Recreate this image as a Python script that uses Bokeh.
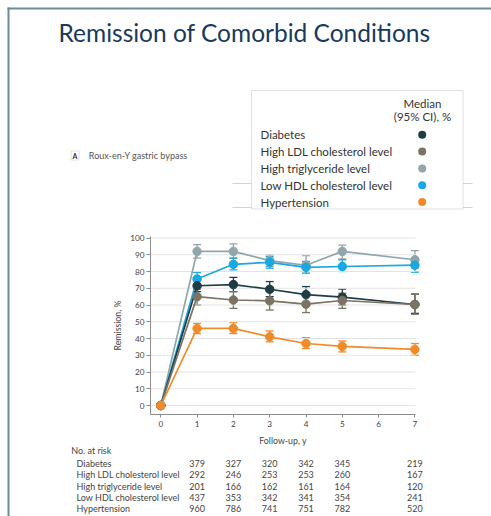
from bokeh.plotting import figure
from bokeh.models import (Label, LabelSet, BoxAnnotation, Whisker, TeeHead,
                          ColumnDataSource, FixedTicker, Range1d)
from bokeh.core.properties import value
from bokeh.embed import file_html
from bokeh.resources import INLINE

# ---------------- data ----------------
years = [0, 1, 2, 3, 4, 5, 7]
x_ticks = [0, 1, 2, 3, 4, 5, 6, 7]
y_ticks = [0, 10, 20, 30, 40, 50, 60, 70, 80, 90, 100]

names = ["Diabetes", "High LDL cholesterol level", "High triglyceride level",
         "Low HDL cholesterol level", "Hypertension"]
colors = ["#1e3d47", "#7b7363", "#90a6ac", "#19a8e2", "#f08b2a"]

diabetes = [0, 71.5, 72.2, 69.4, 66.2, 64.7, 60.3]
diabetes_lo = [0, 68, 68, 65, 61.5, 60, 55]
diabetes_hi = [0, 75, 76.5, 74, 71, 69.5, 66.5]

ldl = [0, 65, 63, 62.5, 60.5, 62.7, 60.3]
ldl_lo = [0, 60, 58, 57, 55.5, 58, 54.5]
ldl_hi = [0, 69.5, 68, 68, 66, 67, 66.5]

trig = [0, 92, 92, 86.5, 83.7, 92, 87]
trig_lo = [0, 88, 88, 83, 80, 87.5, 82]
trig_hi = [0, 96, 96.5, 90, 89.5, 95.7, 92.5]

hdl = [0, 75.5, 84.3, 85.5, 82.5, 83, 83.8]
hdl_lo = [0, 72, 81, 82, 79, 80, 79.6]
hdl_hi = [0, 79.5, 88, 89, 86, 87, 87.5]

hyper = [0, 46, 46, 41, 37, 35.3, 33.5]
hyper_lo = [0, 43, 43, 38, 34, 32, 30]
hyper_hi = [0, 49, 49.5, 44.5, 40.5, 38.5, 37]

risk_years = [1, 2, 3, 4, 5, 7]
risk_diabetes = [379, 327, 320, 342, 345, 219]
risk_ldl = [292, 246, 253, 253, 260, 167]
risk_trig = [201, 166, 162, 161, 164, 120]
risk_hdl = [437, 353, 342, 341, 354, 241]
risk_hyper = [960, 786, 741, 751, 782, 520]

title_text = "Remission of Comorbid Conditions"
panel_text = "Roux-en-Y gastric bypass"
x_label = "Follow-up, y"
y_label = "Remission, %"

# ---------------- geometry (frame covers the whole canvas) ----------------
W, H = 491, 516
X0, PXX = 160.3, 36.3      # px of year 0, px per year
Y0, PXY = 405.0, 1.675     # px of 0 %, px per %


def X(px):
    return (px - X0) / PXX


def Y(py):
    return (Y0 - py) / PXY


FONT = "Lato"

p = figure(width=W, height=H, output_backend="svg", toolbar_location=None,
           x_range=Range1d(X(0), X(W)), y_range=Range1d(Y(H), Y(0)),
           min_border=0, min_border_left=0, min_border_right=0,
           min_border_top=0, min_border_bottom=0)
p.title.visible = False
p.background_fill_color = "white"
p.border_fill_color = "white"
p.outline_line_color = None
p.xgrid.visible = False
p.ygrid.visible = False

ax_left, ax_right = X(150), X(415)
ax_bottom, ax_top = Y(414), Y(236)

xa = p.xaxis[0]
ya = p.yaxis[0]
xa.fixed_location = ax_bottom
ya.fixed_location = ax_left
xa.bounds = (ax_left, ax_right)
ya.bounds = (ax_bottom, ax_top)
for ax in (xa, ya):
    ax.axis_line_color = "#8c8c8c"
    ax.major_tick_line_color = "#8c8c8c"
    ax.minor_tick_line_color = None
    ax.major_tick_in = 0
    ax.major_label_text_font = FONT
    ax.major_label_text_font_size = "8.2px"
    ax.major_label_text_color = "#444444"
    ax.axis_label_text_font = FONT
    ax.axis_label_text_font_size = "8.8px"
    ax.axis_label_text_font_style = "normal"
    ax.axis_label_text_color = "#444444"
xa.ticker = FixedTicker(ticks=x_ticks)
ya.ticker = FixedTicker(ticks=y_ticks)
xa.major_tick_out = 3
ya.major_tick_out = 4
xa.major_label_standoff = 3
ya.major_label_standoff = 2
xa.axis_label = x_label
ya.axis_label = y_label
xa.axis_label_standoff = 5
ya.axis_label_standoff = 4

# horizontal grid lines at the y ticks, limited to the axis extent
grid_src = ColumnDataSource(dict(y=y_ticks, x0=[ax_left] * len(y_ticks),
                                 x1=[ax_right] * len(y_ticks)))
p.segment(x0="x0", y0="y", x1="x1", y1="y", source=grid_src,
          line_color="#e3e3e3", line_width=1)

# ---------------- series ----------------
order = [(trig, trig_lo, trig_hi, colors[2]),
         (hdl, hdl_lo, hdl_hi, colors[3]),
         (diabetes, diabetes_lo, diabetes_hi, colors[0]),
         (ldl, ldl_lo, ldl_hi, colors[1]),
         (hyper, hyper_lo, hyper_hi, colors[4])]

for vals, lo, hi, col in order:
    src = ColumnDataSource(dict(x=years, y=vals))
    wsrc = ColumnDataSource(dict(x=years[1:], lo=lo[1:], hi=hi[1:]))
    w = Whisker(base="x", lower="lo", upper="hi", source=wsrc,
                dimension="height", line_color=col, line_width=1.3,
                upper_head=TeeHead(size=8, line_color=col, line_width=1.3),
                lower_head=TeeHead(size=8, line_color=col, line_width=1.3))
    p.add_layout(w)
    p.line("x", "y", source=src, line_color=col, line_width=1.7)
    p.scatter("x", "y", source=src, size=8.5, fill_color=col, line_color=col)

# ---------------- title ----------------
p.add_layout(Label(x=X(58), y=Y(31.5), text=title_text, text_font=FONT,
                   text_font_size="24.5px", text_color="#183a5c",
                   text_baseline="middle", text_align="left"))

# panel tag
p.add_layout(BoxAnnotation(left=X(70.5), right=X(78.5), top=Y(150.5), bottom=Y(159.5),
                           fill_color="white", fill_alpha=1, line_color="#9a9a9a",
                           line_width=1))
p.add_layout(Label(x=X(74.5), y=Y(155.3), text="A", text_font=FONT,
                   text_font_size="7px", text_font_style="bold", text_color="#333333",
                   text_baseline="middle", text_align="center"))
p.add_layout(Label(x=X(88.3), y=Y(155.3), text=panel_text, text_font=FONT,
                   text_font_size="9px", text_color="#555555",
                   text_baseline="middle", text_align="left"))

# ---------------- legend box ----------------
for ly in (183, 207):
    p.add_layout(BoxAnnotation(left=X(232), right=X(472), top=Y(ly - 0.5), bottom=Y(ly + 0.5),
                               fill_color="#d4d4d4", fill_alpha=1, line_color=None))
p.add_layout(BoxAnnotation(left=X(251), right=X(462.5), top=Y(90), bottom=Y(208.5),
                           fill_color="white", fill_alpha=1, line_color="#9d9d9d",
                           line_width=1))
p.add_layout(Label(x=X(422), y=Y(102.7), text="Median", text_font=FONT,
                   text_font_size="11.5px", text_color="#333333",
                   text_baseline="middle", text_align="center"))
p.add_layout(Label(x=X(422), y=Y(116.3), text="(95% CI), %", text_font=FONT,
                   text_font_size="11.5px", text_color="#333333",
                   text_baseline="middle", text_align="center"))
leg_rows = [134.3, 151.0, 168.0, 184.7, 201.5]
for name, col, ry in zip(names, colors, leg_rows):
    p.add_layout(Label(x=X(260), y=Y(ry), text=name, text_font=FONT,
                       text_font_size="11.5px", text_color="#333333",
                       text_baseline="middle", text_align="left"))
    p.add_layout(BoxAnnotation(left=X(421.7 - 4), right=X(421.7 + 4),
                               top=Y(ry - 4), bottom=Y(ry + 4),
                               fill_color=col, fill_alpha=1, line_color=None,
                               border_radius=4))

# ---------------- number at risk table ----------------
p.add_layout(Label(x=X(70.7), y=Y(449.5), text="No. at risk", text_font=FONT,
                   text_font_size="9px", text_color="#444444",
                   text_baseline="middle", text_align="left"))
risk_rows = [risk_diabetes, risk_ldl, risk_trig, risk_hdl, risk_hyper]
row_y = [462.5, 474.0, 485.5, 497.0, 508.3]
for name, counts, ry in zip(names, risk_rows, row_y):
    p.add_layout(Label(x=X(76), y=Y(ry), text=name, text_font=FONT,
                       text_font_size="9px", text_color="#444444",
                       text_baseline="middle", text_align="left"))
    rsrc = ColumnDataSource(dict(x=risk_years, y=[Y(ry)] * len(risk_years),
                                 t=[str(c) for c in counts]))
    p.add_layout(LabelSet(x="x", y="y", text="t", source=rsrc,
                          text_font=value(FONT), text_font_size="9px",
                          text_color="#444444", text_baseline="middle",
                          text_align="center"))

# white strip along the right edge, then the slide frame lines on top
p.add_layout(BoxAnnotation(left=X(W - 8), right=X(W), top=Y(0), bottom=Y(H),
                           fill_color="white", fill_alpha=1, line_color=None))
frame_col = "#6f8b99"
p.add_layout(BoxAnnotation(left=X(7), right=X(W), top=Y(7), bottom=Y(9),
                           fill_color=frame_col, fill_alpha=1, line_color=None))
p.add_layout(BoxAnnotation(left=X(7), right=X(9), top=Y(7), bottom=Y(H),
                           fill_color=frame_col, fill_alpha=1, line_color=None))

open("out.html", "w").write(file_html(p, INLINE))
